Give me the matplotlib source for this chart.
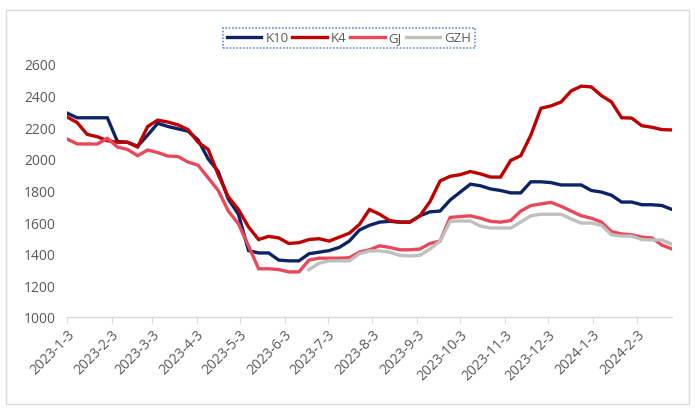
import matplotlib
matplotlib.use("Agg")
import matplotlib.pyplot as plt
import pandas as pd
import numpy as np
from matplotlib.patches import Rectangle

plt.rcParams['font.family'] = ['Open Sans', 'DejaVu Sans']

dates = pd.date_range("2023-01-03", periods=61, freq="7D")

k10 = [2290, 2260, 2260, 2260, 2260, 2110, 2105, 2080, 2150, 2225,
       2205, 2190, 2175, 2120, 2000, 1920, 1745, 1650, 1420, 1405,
       1405, 1360, 1355, 1355, 1400, 1410, 1420, 1440, 1480, 1550,
       1580, 1600, 1605, 1600, 1600, 1640, 1665, 1670, 1740, 1790,
       1840, 1830, 1810, 1800, 1785, 1785, 1855, 1855, 1850, 1835,
       1835, 1835, 1800, 1790, 1770, 1727, 1727, 1710, 1710, 1705, 1680]

k4 = [2265, 2230, 2155, 2140, 2115, 2105, 2105, 2075, 2205, 2245,
      2233, 2215, 2185, 2105, 2060, 1900, 1760, 1680, 1570, 1490,
      1510, 1500, 1465, 1470, 1490, 1495, 1480, 1505, 1530, 1585,
      1680, 1650, 1610, 1600, 1600, 1640, 1730, 1860, 1890, 1900,
      1920, 1905, 1885, 1885, 1990, 2020, 2150, 2320, 2335, 2360,
      2430, 2460, 2455, 2400, 2360, 2260, 2258, 2210, 2200, 2185, 2183]

gj = [2126, 2095, 2094, 2094, 2130, 2075, 2060, 2020, 2056, 2040,
      2018, 2015, 1980, 1960, 1880, 1800, 1670, 1590, 1450, 1305,
      1305, 1300, 1285, 1285, 1360, 1372, 1372, 1372, 1375, 1410,
      1425, 1450, 1440, 1425, 1425, 1430, 1465, 1480, 1630, 1635,
      1640, 1625, 1605, 1600, 1610, 1670, 1705, 1715, 1725, 1700,
      1670, 1640, 1625, 1600, 1540, 1525, 1520, 1505, 1500, 1455, 1430]

gzh = [np.nan] * 24 + [
      1300, 1340, 1355, 1355, 1355, 1400,
      1418, 1418, 1410, 1390, 1386, 1390, 1430, 1480, 1605, 1607,
      1607, 1575, 1563, 1563, 1563, 1600, 1640, 1650, 1650, 1650,
      1620, 1594, 1594, 1580, 1520, 1512, 1512, 1490, 1487, 1487, 1460]

tick_dates = pd.date_range("2023-01-01", "2024-02-01", freq="MS") + pd.Timedelta(days=2)
tick_labels = [f"{d.year}-{d.month}-{d.day}" for d in tick_dates]

series = [("K10", k10, "#0c2466"), ("K4", k4, "#c00000"),
          ("GJ", gj, "#e8485a"), ("GZH", gzh, "#bfbfbf")]

W, H = 700, 410
fig = plt.figure(figsize=(W / 100, H / 100), dpi=100)
ax = fig.add_axes([67 / W, 1 - 318 / H, (672 - 67) / W, (318 - 65) / H])

for name, vals, col in series:
    ax.plot(dates, vals, color=col, lw=2.4, label=name, solid_joinstyle='miter')

ax.set_ylim(1000, 2600)
ax.set_yticks(range(1000, 2601, 200))
ax.set_xlim(dates[0], dates[-1])
ax.set_xticks(tick_dates)
ax.set_xticklabels(tick_labels, rotation=45, ha='right', rotation_mode='anchor')

for s in ['top', 'right', 'left']:
    ax.spines[s].set_visible(False)
ax.spines['bottom'].set_color('#d9d9d9')
ax.spines['bottom'].set_linewidth(1)
ax.tick_params(axis='y', length=0, pad=8, labelsize=10, labelcolor='#595959')
ax.tick_params(axis='x', length=4, color='#d9d9d9', pad=3, labelsize=10, labelcolor='#595959')

leg = fig.legend(loc='center', bbox_to_anchor=(349 / W, 1 - 39 / H), ncol=4,
                 frameon=True, fancybox=False, fontsize=9.5, handlelength=2.6,
                 columnspacing=0.3, handletextpad=0.3, borderpad=0.3,
                 borderaxespad=0, labelcolor='#595959')
fr = leg.get_frame()
fr.set_edgecolor('#4472c4')
fr.set_linestyle((0, (1, 1)))
fr.set_linewidth(1.2)

fig.patches.append(Rectangle((6 / W, 1 - 405 / H), (689 - 6) / W, (405 - 11) / H,
                             transform=fig.transFigure, fill=False,
                             edgecolor='#d9d9d9', lw=1))

fig.savefig("out.png", dpi=100)
